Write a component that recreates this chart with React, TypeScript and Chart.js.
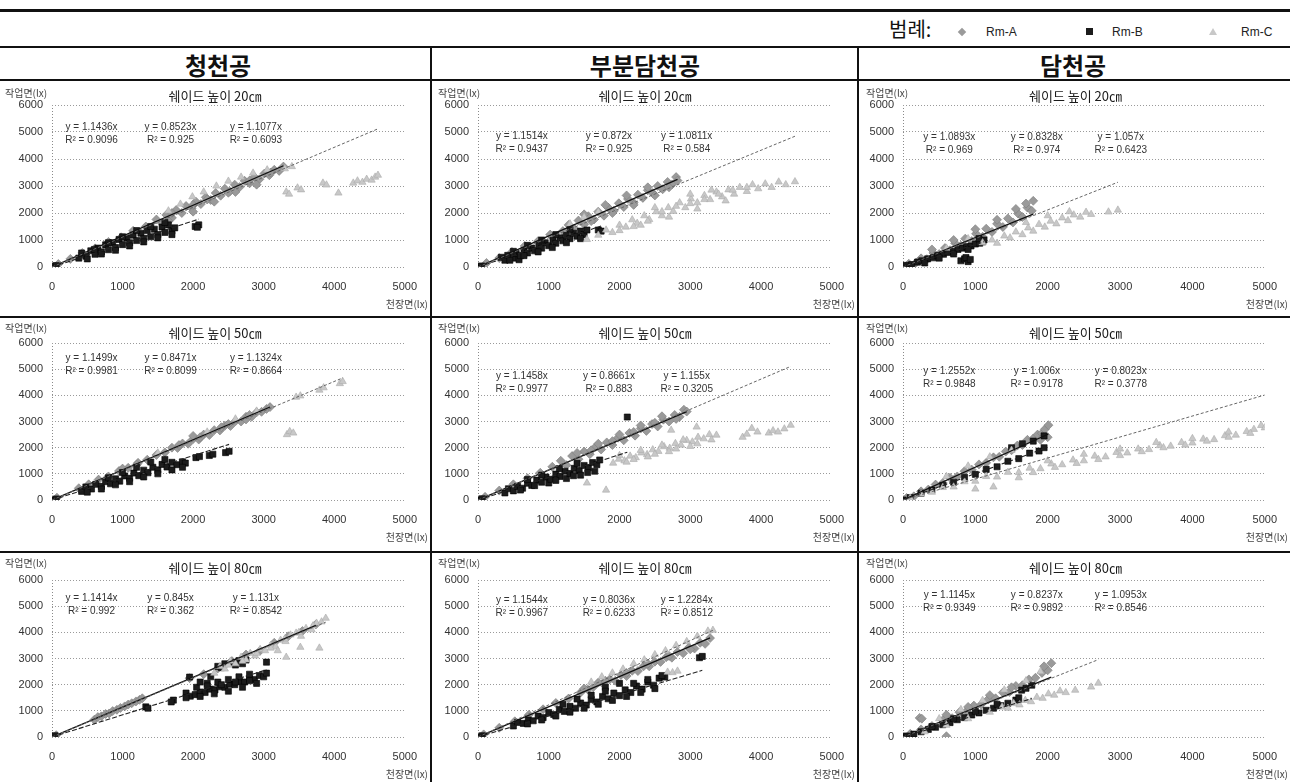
import React, { useEffect, useRef } from 'react';
import { Chart, registerables } from 'chart.js';
Chart.register(...registerables);

type P = [number, number];

// ---------- labels ----------
const columnTitles = ['청천공', '부분담천공', '담천공'];
const shadeHeights = ['20㎝', '50㎝', '80㎝'];
const seriesNames = ['Rm-A', 'Rm-B', 'Rm-C'];
const xTickValues = [0, 1000, 2000, 3000, 4000, 5000];
const yTickValues = [0, 1000, 2000, 3000, 4000, 5000, 6000];
const yAxisLabel = '작업면(lx)';
const xAxisLabel = '천장면(lx)';

// ---------- data (천장면 lx, 작업면 lx) ----------
// 청천공 20cm
const clear20A: P[] = [[0,0],[90,110],[260,300],[430,520],[610,690],[800,930],[980,1100],[1150,1340],[1330,1500],[1480,1760],[1560,1620],[1620,1930],[1700,1820],[1760,2110],[1840,2000],[1900,2260],[1980,2180],[2040,2420],[2110,2330],[2180,2580],[2250,2480],[2320,2740],[2390,2640],[2450,2900],[2520,2800],[2590,3050],[2660,2960],[2730,3190],[2800,3100],[2870,3330],[2940,3250],[3010,3460],[3080,3400],[3150,3600],[3220,3560],[3280,3720],[1650,1700],[2000,2050],[2300,2420],[2600,2780],[2900,3050],[1700,2000],[2000,2300],[2200,2500],[2500,2750],[2800,3200],[3100,3500]];
const clear20B: P[] = [[20,30],[60,50],[380,330],[420,520],[480,400],[550,600],[610,470],[650,700],[700,560],[760,820],[800,640],[860,900],[900,720],[950,1020],[1000,830],[1060,1080],[1100,900],[1150,1180],[1200,980],[1260,1250],[1300,1060],[1350,1350],[1400,1120],[1450,1400],[1500,1200],[1560,1480],[1600,1280],[1650,1560],[1700,1330],[1740,1450],[2030,1500],[2080,1560],[2060,1470],[500,300],[700,480],[900,620],[1100,780],[1300,930],[1500,1080],[1700,1200],[600,650],[800,900],[1000,1120],[1200,1350],[1400,1500],[1600,1650]];
const clear20C: P[] = [[1650,2080],[1820,2330],[1990,2600],[2150,2780],[2330,3000],[2500,3180],[2680,3330],[2850,3480],[3050,3600],[3320,2780],[3360,2700],[3300,3640],[3400,3720],[3480,2930],[3530,2860],[3840,3110],[3890,3040],[4060,2740],[4270,3110],[4330,3190],[4400,3140],[4460,3250],[4530,3220],[4580,3330],[4620,3400]];
// 부분담천공 20cm
const part20A: P[] = [[0,0],[120,150],[300,330],[480,560],[660,780],[850,960],[1020,1200],[1200,1330],[1280,1560],[1360,1420],[1420,1720],[1500,1580],[1560,1880],[1640,1760],[1700,2050],[1780,1900],[1840,2200],[1920,2080],[1990,2360],[2060,2220],[2120,2520],[2200,2380],[2260,2680],[2330,2560],[2400,2840],[2470,2740],[2540,3000],[2610,2880],[2680,3150],[2740,3060],[2800,3330],[2820,3200],[1500,1950],[1800,2300],[2100,2650],[2400,2950],[1600,1700],[1900,2000],[2200,2300],[2500,2650],[2700,2950]];
const part20B: P[] = [[0,0],[50,40],[330,360],[380,250],[420,430],[500,330],[540,500],[580,270],[600,420],[650,610],[700,520],[760,700],[800,600],[860,800],[900,700],[950,900],[1000,790],[1060,990],[1100,880],[1160,1080],[1200,970],[1250,1170],[1300,1050],[1350,1250],[1400,1140],[1450,1330],[1500,1200],[1540,1370],[1700,1370],[1740,1330],[450,250],[650,420],[850,560],[1050,720],[1250,900],[1450,1050],[500,580],[700,800],[900,1000],[1100,1200],[1300,1400]];
const part20C: P[] = [[1540,1020],[1700,1180],[1810,1370],[1900,1280],[2000,1550],[2090,1480],[2180,1750],[2250,1620],[2350,1900],[2420,1760],[2520,2050],[2600,1900],[2690,2200],[2760,2060],[2850,2380],[2930,2200],[3010,2520],[3100,2380],[3200,2650],[3280,2500],[3370,2780],[3450,2600],[3540,2860],[3620,2700],[3700,2950],[3800,2800],[3880,3050],[3960,2900],[4060,3080],[4150,2950],[4250,3150],[4350,3050],[4480,3160],[1300,1600],[1500,1850],[1700,2050],[2300,1550],[2700,1850],[3100,2150],[3500,2450],[2000,1350],[2200,1500],[2400,1700],[2600,2050],[2800,2250],[3000,2350],[3200,2500],[3400,2700],[3600,2850],[3800,2950],[3000,2700],[3300,2850],[2500,2200]];
// 담천공 20cm
const full20A: P[] = [[0,0],[80,120],[180,160],[250,320],[330,290],[420,520],[500,480],[580,700],[650,620],[720,880],[800,790],[860,1050],[950,960],[1010,1230],[1100,1120],[1150,1420],[1230,1300],[1300,1600],[1380,1480],[1450,1800],[1520,1650],[1590,1980],[1650,1850],[1720,2200],[1780,2080],[1800,2450],[1700,2350],[1560,2150],[400,650],[700,1000],[1000,1400],[1300,1750]];
const full20B: P[] = [[0,0],[40,60],[120,90],[200,180],[260,230],[340,300],[420,340],[480,420],[560,470],[620,540],[700,580],[760,650],[820,700],[880,760],[940,780],[1000,850],[1060,880],[1100,930],[800,230],[850,300],[900,200],[870,350],[930,280],[1120,1000],[300,150],[500,330],[700,480],[900,650],[1050,1050]];
const full20C: P[] = [[1230,1000],[1300,880],[1400,1150],[1480,1080],[1560,1300],[1650,1200],[1730,1450],[1800,1330],[1880,1580],[1960,1480],[2040,1700],[2120,1600],[2200,1820],[2280,1720],[2360,1930],[2450,1850],[2530,2030],[2600,1950],[2840,2040],[2970,2110],[600,700],[900,1050],[1100,900],[1700,1650],[2000,1900],[2300,2050]];
// 청천공 50cm
const clear50A: P[] = [[0,0],[70,90],[380,450],[520,600],[660,780],[800,900],[950,1110],[1080,1230],[1220,1420],[1350,1540],[1480,1720],[1600,1820],[1700,2000],[1780,1990],[1850,2160],[1930,2150],[2000,2330],[2080,2310],[2150,2500],[2230,2480],[2300,2670],[2380,2660],[2450,2840],[2530,2830],[2600,3010],[2680,3000],[2750,3180],[2830,3180],[2900,3350],[2970,3370],[3040,3480],[3090,3550],[2000,2450],[2400,2780],[2750,3080],[1800,2100],[2100,2400],[2500,2900],[2800,3250],[1200,1350],[1000,1200]];
const clear50B: P[] = [[0,0],[60,40],[420,330],[480,500],[560,420],[620,600],[700,520],[760,700],[830,620],[900,810],[960,720],[1030,920],[1100,830],[1160,1030],[1230,930],[1300,1140],[1360,1040],[1430,1250],[1500,1150],[1560,1360],[1630,1260],[1700,1440],[1770,1350],[1850,1460],[1890,1410],[2040,1620],[2090,1660],[2230,1700],[2280,1750],[2460,1810],[2510,1860],[500,300],[700,420],[900,580],[1100,700],[1300,880],[1500,1000],[1700,1150],[1850,1250],[800,850],[1000,1050],[1200,1250],[1400,1450],[1600,1550]];
const clear50C: P[] = [[3330,2500],[3370,2620],[3420,2560],[3460,3930],[3520,3980],[3790,4200],[3850,4290],[4080,4450],[4120,4530],[2200,2600],[2600,3100],[2900,3400],[1500,1800]];
// 부분담천공 50cm
const part50A: P[] = [[0,0],[100,120],[300,360],[500,600],[700,830],[880,1040],[1050,1270],[1170,1500],[1250,1330],[1330,1680],[1420,1560],[1500,1850],[1580,1750],[1660,2030],[1740,1930],[1820,2200],[1900,2100],[1980,2380],[2060,2280],[2140,2560],[2220,2460],[2300,2730],[2380,2640],[2460,2900],[2540,2810],[2620,3070],[2700,3000],[2780,3250],[2850,3180],[2910,3450],[2950,3380],[1400,1800],[1700,2150],[2000,2500],[2300,2850],[2600,3200],[1600,1900],[1900,2250],[2200,2600],[2500,2950],[2800,3100]];
const part50B: P[] = [[0,0],[60,50],[380,270],[430,430],[500,350],[560,520],[630,450],[700,640],[760,560],[830,760],[900,680],[960,880],[1000,650],[1030,790],[1100,990],[1160,900],[1230,1100],[1250,820],[1300,1010],[1360,1210],[1430,1120],[1450,950],[1500,1320],[1560,1230],[1620,1430],[1650,1100],[1680,1350],[1720,1530],[2110,3170],[600,380],[800,550],[1100,750],[1350,930],[1550,1050],[700,780],[900,950],[1150,1200],[1400,1400]];
const part50C: P[] = [[1540,650],[1810,380],[1910,1410],[1990,1560],[2070,1500],[2150,1680],[2230,1620],[2310,1800],[2390,1740],[2470,1920],[2550,1860],[2630,2040],[2710,1980],[2790,2160],[2870,2100],[2950,2280],[3030,2220],[3110,2400],[3190,2340],[3270,2500],[3370,2480],[2730,2670],[3090,2790],[3740,2400],[3800,2520],[3870,2740],[3950,2600],[4110,2560],[4170,2650],[4240,2600],[4330,2720],[4420,2860],[2100,1450],[2400,1650],[2700,1850],[3000,2050],[2200,1550],[2500,1750],[2800,1950],[3100,2150],[3300,2300],[2000,1700],[2300,1900],[2600,2100],[2900,2300]];
// 담천공 50cm
const full50A: P[] = [[0,0],[50,80],[150,140],[250,330],[350,400],[450,590],[550,650],[650,850],[750,900],[850,1100],[950,1160],[1050,1360],[1150,1420],[1250,1630],[1330,1650],[1420,1850],[1500,1900],[1580,2080],[1650,2100],[1720,2300],[1800,2350],[1860,2500],[1920,2550],[1960,2700],[2010,2860],[2000,2400],[1900,2300]];
const full50B: P[] = [[0,0],[100,90],[250,260],[400,380],[550,560],[700,680],[850,870],[1000,980],[1150,1170],[1300,1270],[1450,1480],[1600,1580],[1750,1790],[1880,1870],[1950,2000],[1500,2000],[1650,2150],[1800,2250],[1950,2450]];
const full50C: P[] = [[100,80],[250,230],[400,300],[550,480],[700,500],[850,700],[1000,720],[1000,420],[1150,900],[1250,500],[1300,880],[1450,1060],[1600,1050],[1600,850],[1750,1220],[1900,1200],[2050,1380],[2200,1350],[2350,1530],[2500,1500],[2650,1680],[2800,1650],[2950,1820],[3100,1800],[3250,1950],[3400,1930],[3550,2080],[3700,2060],[3850,2200],[4000,2180],[4150,2330],[4300,2310],[4450,2460],[4600,2480],[4750,2620],[4850,2700],[4950,2850],[5000,2760],[600,900],[900,1300],[1200,1650],[1500,1900],[1800,1050],[2100,1250],[2400,1400],[2700,1550],[3000,1700],[3300,1850],[3600,2000],[3900,2100],[4200,2250],[4500,2400],[4800,2550],[2000,1500],[2500,1750],[3000,1950],[3500,2200],[4000,2350],[4500,2600]];
// 청천공 80cm
const clear80A: P[] = [[0,0],[60,70],[600,660],[650,760],[700,790],[760,880],[810,900],[860,990],[920,1040],[970,1110],[1030,1170],[1080,1240],[1130,1290],[1190,1360],[1240,1420],[1280,1480],[1950,2250],[2150,2400],[2350,2620],[2550,2900],[2750,3150],[2950,3300],[3150,3600],[3350,3850],[3550,4050],[3740,4300]];
const clear80B: P[] = [[0,0],[40,50],[1330,1150],[1360,1100],[1720,1410],[1690,1340],[1950,2290],[1900,1680],[1960,1560],[2030,1620],[2100,1720],[2170,1700],[2240,1830],[2310,1800],[2380,1920],[2450,1900],[2520,2020],[2590,2000],[2660,2120],[2730,2100],[2800,2220],[2870,2200],[2940,2350],[3000,2300],[3040,2440],[2050,1900],[2200,2050],[2350,2100],[2500,2200],[2650,2300],[2800,2400],[2350,2700],[2450,2800],[2550,2850],[2650,2920],[2750,2940],[3040,2860],[2100,2100],[2250,2300],[1900,1500],[2100,1550],[2300,1650],[2500,1750],[2700,1900],[2900,2050],[2200,1950],[2400,2000],[2600,2100],[2800,2150],[2400,2650],[2600,2750],[2700,2800]];
const clear80C: P[] = [[2300,2440],[2380,2700],[2450,2600],[2530,2900],[2600,2800],[2680,3050],[2750,2950],[2810,3200],[2880,3100],[2950,3350],[3020,3300],[3100,3500],[3170,3450],[3240,3700],[3310,3650],[3380,3900],[3460,3970],[3530,3850],[3600,4150],[3680,4100],[3750,4350],[3820,4400],[3880,4540],[3320,3050],[3520,3430],[3790,3400],[3200,3300],[2500,2750],[2700,2900],[2900,3200],[3100,3400],[3300,3750],[3500,4000],[3700,4250]];
// 부분담천공 80cm
const part80A: P[] = [[0,0],[80,100],[300,350],[520,600],[720,850],[920,1060],[1100,1300],[1280,1470],[1450,1700],[1550,1820],[1630,1910],[1700,2080],[1780,2000],[1860,2200],[1940,2150],[2020,2370],[2100,2330],[2180,2530],[2260,2520],[2340,2700],[2420,2700],[2500,2880],[2580,2870],[2660,3050],[2740,3030],[2820,3250],[2900,3200],[2980,3420],[3060,3380],[3140,3600],[3210,3560],[3280,3780],[1500,1850],[1800,2150],[2100,2450],[2400,2800],[2700,3100],[3000,3350]];
const part80B: P[] = [[0,0],[60,50],[500,420],[560,560],[640,520],[710,650],[780,620],[850,800],[920,740],[1000,930],[1070,860],[1150,1050],[1220,980],[1300,1170],[1380,1100],[1450,1300],[1530,1220],[1600,1430],[1680,1340],[1760,1550],[1840,1460],[1920,1680],[2000,1580],[2080,1800],[2160,1700],[2240,1950],[2320,1830],[2400,2100],[2480,1980],[2560,2250],[2640,2290],[1800,1900],[2000,2050],[3130,3030],[3170,3080],[700,500],[900,650],[1100,800],[1300,950],[1500,1100],[1700,1250],[1900,1400],[2100,1550],[2300,1700],[2500,1850],[1200,1250],[1400,1450],[1600,1600],[1800,1750],[2200,2050],[2400,2200],[2600,2350]];
const part80C: P[] = [[1600,2100],[1750,2300],[1900,2450],[2050,2600],[2200,2800],[2350,2950],[2500,3150],[2650,3300],[2800,3500],[2950,3650],[3100,3850],[3250,4050],[3320,4080],[2680,2480],[2750,2460],[2820,2520]];
// 담천공 80cm
const full80A: P[] = [[0,0],[230,730],[260,700],[600,30],[100,120],[250,290],[400,420],[550,640],[680,720],[780,950],[880,990],[980,1200],[1080,1240],[1180,1450],[1280,1480],[1380,1700],[1470,1720],[1560,1950],[1650,1980],[1740,2200],[1830,2260],[1920,2450],[2000,2550],[2050,2820],[1950,2700],[600,850],[900,1150],[1200,1600],[1500,1900]];
const full80B: P[] = [[0,0],[50,40],[150,110],[250,200],[350,290],[450,370],[550,470],[650,550],[750,660],[850,740],[950,840],[1050,920],[1150,1020],[1250,1100],[1350,1200],[1450,1290],[1560,1410],[1600,1500],[1640,1790],[1700,1860],[1780,1980],[400,400],[700,700],[1000,980],[1300,1250]];
const full80C: P[] = [[1370,1150],[1450,1100],[1530,1280],[1610,1230],[1690,1400],[1770,1350],[1850,1520],[1930,1480],[2010,1650],[2090,1600],[2170,1760],[2250,1700],[2380,1790],[2600,1910],[2700,2060],[500,700],[800,1050],[1100,1400],[1400,1800],[1700,2150],[1900,2500],[300,200],[600,450],[900,700],[1200,950]];

// panel order: row (20/50/80) by column (청천공/부분담천공/담천공)
const pointsA = [clear20A, part20A, full20A, clear50A, part50A, full50A, clear80A, part80A, full80A];
const pointsB = [clear20B, part20B, full20B, clear50B, part50B, full50B, clear80B, part80B, full80B];
const pointsC = [clear20C, part20C, full20C, clear50C, part50C, full50C, clear80C, part80C, full80C];

const slopeA = [1.1436, 1.1514, 1.0893, 1.1499, 1.1458, 1.2552, 1.1414, 1.1544, 1.1145];
const slopeB = [0.8523, 0.872, 0.8328, 0.8471, 0.8661, 1.006, 0.845, 0.8036, 0.8237];
const slopeC = [1.1077, 1.0811, 1.057, 1.1324, 1.155, 0.8023, 1.131, 1.2284, 1.0953];
const r2A = ['0.9096', '0.9437', '0.969', '0.9981', '0.9977', '0.9848', '0.992', '0.9967', '0.9349'];
const r2B = ['0.925', '0.925', '0.974', '0.8099', '0.883', '0.9178', '0.362', '0.6233', '0.9892'];
const r2C = ['0.6093', '0.584', '0.6423', '0.8664', '0.3205', '0.3778', '0.8542', '0.8512', '0.8546'];

// ---------- layout (pixels) ----------
const COL_LEFT = [0, 433, 861];
const COL_W = [430, 424, 429];
const ROW_TOP = [81, 319, 554];
const ROW_H = [236, 233, 228];
const Y_AXIS_W = [52, 45, 42];
const PAD_RIGHT = [20, 15, 22];
const PAD_TOP = [24, 24, 26];
const X_AXIS_H = [50, 52, 45];
const TITLE_Y = [15, 14, 14];
const YLABEL_Y = [12, 9, 9];
const EQ_DY = [[22, 31, 32], [15, 33, 28], [18, 20, 15]];
const EQ_X = [[560, 1680, 2890], [620, 1850, 2950], [640, 1850, 3010]];

const FONT_KR = '"Noto Sans CJK KR", "Noto Sans", sans-serif';
const FONT_NUM = '"Liberation Sans", Arial, sans-serif';

const COLOR_A = '#9a9a9a';
const COLOR_B = '#1c1c1c';
const COLOR_C = '#c8c8c8';

function Panel({ row, col }: { row: number; col: number }) {
  const ref = useRef<HTMLCanvasElement>(null);
  useEffect(() => {
    const idx = row * 3 + col;
    const toXY = (pts: P[]) => pts.map(([x, y]) => ({ x, y }));
    const trend = (pts: P[], k: number) => {
      const xm = Math.max(...pts.map((p) => p[0]));
      return [{ x: 0, y: 0 }, { x: xm, y: k * xm }];
    };
    const eqs = [
      [`y = ${slopeA[idx]}x`, `R² = ${r2A[idx]}`],
      [`y = ${slopeB[idx]}x`, `R² = ${r2B[idx]}`],
      [`y = ${slopeC[idx]}x`, `R² = ${r2C[idx]}`],
    ];
    const textPlugin = {
      id: 'panelText',
      afterDraw(chart: any) {
        const { ctx, chartArea, scales } = chart;
        ctx.save();
        ctx.fillStyle = '#1a1a1a';
        ctx.textBaseline = 'middle';
        ctx.font = `13px ${FONT_KR}`;
        ctx.textAlign = 'center';
        ctx.fillText(`쉐이드 높이 ${shadeHeights[row]}`, chart.width / 2, TITLE_Y[row]);
        ctx.fillStyle = '#444';
        ctx.font = `10px ${FONT_KR}`;
        ctx.textAlign = 'left';
        ctx.fillText(yAxisLabel, 5, YLABEL_Y[row]);
        ctx.textAlign = 'right';
        ctx.fillText(xAxisLabel, chart.width - 2, chartArea.bottom + 37);
        ctx.fillStyle = '#333';
        ctx.font = `10px ${FONT_NUM}`;
        ctx.textAlign = 'center';
        eqs.forEach((e, i) => {
          const x = scales.x.getPixelForValue(EQ_X[col][i]);
          const y = chartArea.top + EQ_DY[row][col];
          ctx.fillText(e[0], x, y);
          ctx.fillText(e[1], x, y + 13);
        });
        ctx.restore();
      },
    };
    const chart = new Chart(ref.current as HTMLCanvasElement, {
      type: 'scatter',
      data: {
        datasets: [
          { label: seriesNames[0], data: toXY(pointsA[idx]), pointStyle: 'rectRot', pointRadius: 4.5, backgroundColor: COLOR_A, borderColor: '#7c7c7c', borderWidth: 0.6, order: 6 },
          { label: seriesNames[1], data: toXY(pointsB[idx]), pointStyle: 'rect', pointRadius: 4.3, backgroundColor: COLOR_B, borderColor: '#000', borderWidth: 0.6, order: 5 },
          { label: seriesNames[2], data: toXY(pointsC[idx]), pointStyle: 'triangle', pointRadius: 4.2, backgroundColor: COLOR_C, borderColor: '#ababab', borderWidth: 0.6, order: 4 },
          { label: 'A fit', data: trend(pointsA[idx], slopeA[idx]), showLine: true, pointRadius: 0, borderColor: '#111', borderWidth: 1.3, order: 2 },
          { label: 'B fit', data: trend(pointsB[idx], slopeB[idx]), showLine: true, pointRadius: 0, borderColor: '#222', borderWidth: 1.1, borderDash: [5, 2], order: 1 },
          { label: 'C fit', data: trend(pointsC[idx], slopeC[idx]), showLine: true, pointRadius: 0, borderColor: '#666', borderWidth: 1, borderDash: [3, 2], order: 0 },
        ] as any,
      },
      options: {
        animation: false,
        responsive: false,
        maintainAspectRatio: false,
        events: [],
        layout: { padding: { left: 0, right: PAD_RIGHT[col], top: PAD_TOP[row], bottom: 0 } },
        plugins: { legend: { display: false }, title: { display: false }, tooltip: { enabled: false } },
        scales: {
          x: {
            type: 'linear',
            min: 0,
            max: 5000,
            afterBuildTicks: (s: any) => { s.ticks = xTickValues.map((v) => ({ value: v })); },
            afterFit: (s: any) => { s.height = X_AXIS_H[row]; },
            ticks: { font: { family: FONT_NUM, size: 11 }, color: '#333', padding: 13, maxRotation: 0, autoSkip: false, callback: (v: any) => String(v) },
            grid: { drawTicks: false, lineWidth: 1, color: (c: any) => (c.tick && c.tick.value === 0 ? '#8a8a8a' : 'rgba(0,0,0,0)') },
            border: { display: false, dash: [1, 2] },
          },
          y: {
            type: 'linear',
            min: 0,
            max: 6000,
            afterBuildTicks: (s: any) => { s.ticks = yTickValues.map((v) => ({ value: v })); },
            afterFit: (s: any) => { s.width = Y_AXIS_W[col]; },
            ticks: { font: { family: FONT_NUM, size: 11 }, color: '#333', padding: 9, autoSkip: false, callback: (v: any) => String(v) },
            grid: { drawTicks: false, lineWidth: 1, color: '#9a9a9a' },
            border: { display: false, dash: [1, 2] },
          },
        },
      } as any,
      plugins: [textPlugin],
    });
    return () => chart.destroy();
  }, [row, col]);
  return (
    <canvas
      ref={ref}
      width={COL_W[col]}
      height={ROW_H[row]}
      style={{ position: 'absolute', left: COL_LEFT[col], top: ROW_TOP[row], width: COL_W[col], height: ROW_H[row] }}
    />
  );
}

const hLine = (top: number, h: number): React.CSSProperties => ({ position: 'absolute', left: 0, width: 1290, top, height: h, background: '#111' });
const vLine = (left: number): React.CSSProperties => ({ position: 'absolute', top: 47, width: 2, left, height: 735, background: '#111' });

export default function App() {
  const titleCenters = [218, 645, 1073];
  return (
    <div style={{ position: 'absolute', left: 0, top: 0, width: 1290, height: 782, background: '#fff', overflow: 'hidden', fontFamily: FONT_KR }}>
      <div style={hLine(9, 3)} />
      {/* legend */}
      <div style={{ position: 'absolute', left: 889, top: 16, fontSize: 20, lineHeight: '26px', color: '#111', fontFamily: FONT_KR }}>범례:</div>
      <div style={{ position: 'absolute', left: 959, top: 29, width: 6, height: 6, background: COLOR_A, transform: 'rotate(45deg)' }} />
      <div style={{ position: 'absolute', left: 986, top: 24, fontSize: 12, lineHeight: '16px', color: '#222', fontFamily: FONT_NUM }}>{seriesNames[0]}</div>
      <div style={{ position: 'absolute', left: 1086, top: 28, width: 7, height: 7, background: COLOR_B }} />
      <div style={{ position: 'absolute', left: 1112, top: 24, fontSize: 12, lineHeight: '16px', color: '#222', fontFamily: FONT_NUM }}>{seriesNames[1]}</div>
      <div style={{ position: 'absolute', left: 1209, top: 28, width: 0, height: 0, borderLeft: '4px solid transparent', borderRight: '4px solid transparent', borderBottom: `7px solid ${COLOR_C}` }} />
      <div style={{ position: 'absolute', left: 1241, top: 24, fontSize: 12, lineHeight: '16px', color: '#222', fontFamily: FONT_NUM }}>{seriesNames[2]}</div>
      <div style={hLine(46, 2)} />
      {columnTitles.map((t, i) => (
        <div key={t} style={{ position: 'absolute', left: titleCenters[i] - 150, width: 300, top: 49, height: 31, lineHeight: '31px', textAlign: 'center', fontSize: 24, fontWeight: 700, color: '#111', fontFamily: FONT_KR }}>{t}</div>
      ))}
      <div style={hLine(79, 2)} />
      {[0, 1, 2].map((r) => [0, 1, 2].map((c) => <Panel key={`${r}-${c}`} row={r} col={c} />))}
      <div style={hLine(316, 2)} />
      <div style={hLine(551, 2)} />
      <div style={vLine(430)} />
      <div style={vLine(857)} />
    </div>
  );
}
